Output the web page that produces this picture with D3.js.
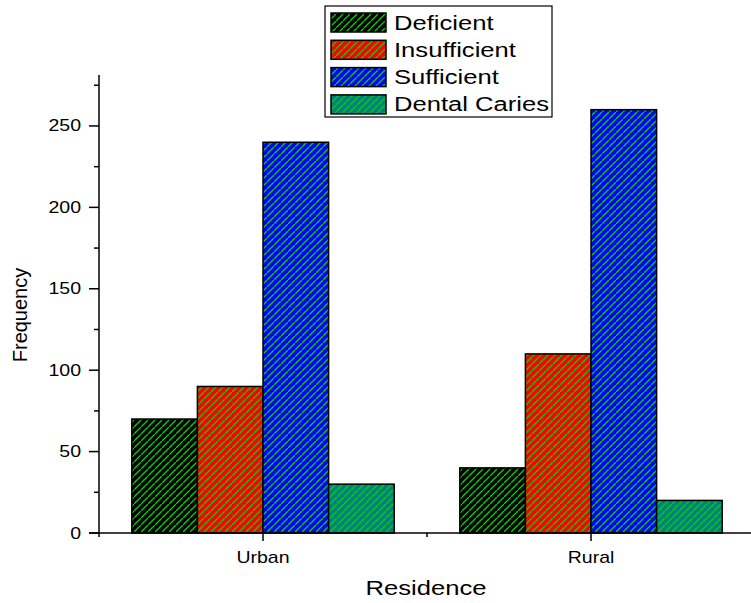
<!DOCTYPE html>
<html>
<head>
<meta charset="utf-8">
<script src="https://cdn.jsdelivr.net/npm/d3@7"></script>
<style>
  html, body { margin: 0; padding: 0; background: #fff; }
  svg { display: block; }
  text { font-family: "Liberation Sans", Arial, sans-serif; fill: #000; }
</style>
</head>
<body>
<svg id="chart" width="751" height="603"></svg>
<script>
// ---- data ----
const categories = ["Urban", "Rural"];
const seriesNames = ["Deficient", "Insufficient", "Sufficient", "Dental Caries"];
const deficient = [70, 40];
const insufficient = [90, 110];
const sufficient = [240, 260];
const dentalCaries = [30, 20];
const seriesValues = [deficient, insufficient, sufficient, dentalCaries];
const yTickValues = [0, 50, 100, 150, 200, 250];
const yMinorTicks = [25, 75, 125, 175, 225, 275];
const xTitle = "Residence";
const yTitle = "Frequency";
const fillColors = ["#000000", "#ff0000", "#0000ff", "#008080"];
const hatchColor = "#00d400";

// ---- layout ----
const svg = d3.select("#chart");
const pLeft = 99, pRight = 755, pTop = 75, pBottom = 533;
const SX = 1.22; // horizontal text stretch seen in the reference

const x0 = d3.scaleBand().domain(categories).range([pLeft, pRight]).paddingInner(0).paddingOuter(0);
const x1 = d3.scaleBand().domain(seriesNames).range([0, x0.bandwidth()]).paddingInner(0).paddingOuter(0.5);
const y = d3.scaleLinear().domain([0, 281.3]).range([pBottom, pTop]);

// patterns
const defs = svg.append("defs");
fillColors.forEach((c, i) => {
  const p = defs.append("pattern")
    .attr("id", "hatch" + i)
    .attr("patternUnits", "userSpaceOnUse")
    .attr("width", 7).attr("height", 7);
  p.append("rect").attr("width", 7).attr("height", 7).attr("fill", c);
  p.append("path")
    .attr("d", "M-1,8 L8,-1 M-2,1 L1,-2 M6,9 L9,6")
    .attr("stroke", hatchColor).attr("stroke-width", 1.4);
});

function stretchedText(g, x, yPos, str, size, anchor) {
  return g.append("text")
    .attr("transform", `translate(${x},${yPos}) scale(${SX},1)`)
    .attr("text-anchor", anchor)
    .style("font-size", size + "px")
    .text(str);
}

// bars
const groups = svg.append("g").selectAll("g")
  .data(categories)
  .join("g")
  .attr("transform", d => `translate(${x0(d)},0)`);

groups.selectAll("rect")
  .data((d, ci) => seriesNames.map((s, si) => ({ s, si, v: seriesValues[si][ci] })))
  .join("rect")
  .attr("x", d => x1(d.s))
  .attr("width", x1.bandwidth())
  .attr("y", d => y(d.v))
  .attr("height", d => y(0) - y(d.v))
  .attr("fill", d => `url(#hatch${d.si})`)
  .attr("stroke", "#000")
  .attr("stroke-width", 1.5);

// y axis
const yAxisG = svg.append("g");
yAxisG.append("line").attr("x1", pLeft).attr("x2", pLeft).attr("y1", pTop).attr("y2", pBottom + 4)
  .attr("stroke", "#000").attr("stroke-width", 1.5);
yTickValues.forEach(v => {
  yAxisG.append("line").attr("x1", pLeft - 10).attr("x2", pLeft).attr("y1", y(v)).attr("y2", y(v))
    .attr("stroke", "#000").attr("stroke-width", 1.5);
  stretchedText(yAxisG, pLeft - 18, y(v) + 5.5, d3.format("d")(v), 16, "end");
});
yMinorTicks.forEach(v => {
  yAxisG.append("line").attr("x1", pLeft - 5).attr("x2", pLeft).attr("y1", y(v)).attr("y2", y(v))
    .attr("stroke", "#000").attr("stroke-width", 1.5);
});

// x axis
const xAxisG = svg.append("g");
xAxisG.append("line").attr("x1", pLeft - 10).attr("x2", 751).attr("y1", pBottom).attr("y2", pBottom)
  .attr("stroke", "#000").attr("stroke-width", 1.5);
categories.forEach(c => {
  const cx = x0(c) + x0.bandwidth() / 2;
  xAxisG.append("line").attr("x1", cx).attr("x2", cx).attr("y1", pBottom).attr("y2", pBottom + 8)
    .attr("stroke", "#000").attr("stroke-width", 1.5);
  stretchedText(xAxisG, cx, 563, c, 16, "middle");
});
x0.domain().slice(1).forEach(c => {
  const bx = x0(c);
  xAxisG.append("line").attr("x1", bx).attr("x2", bx).attr("y1", pBottom).attr("y2", pBottom + 4)
    .attr("stroke", "#000").attr("stroke-width", 1.5);
});

// axis titles
stretchedText(svg, (pLeft + pRight) / 2 - 1, 595, xTitle, 21, "middle");
svg.append("text")
  .attr("transform", `translate(27,${(pTop + pBottom) / 2 + 11}) rotate(-90)`)
  .attr("text-anchor", "middle")
  .style("font-size", "20px")
  .text(yTitle);

// legend
const lg = svg.append("g");
lg.append("rect").attr("x", 325).attr("y", 6).attr("width", 227).attr("height", 111)
  .attr("fill", "#fff").attr("stroke", "#000").attr("stroke-width", 1.2);
seriesNames.forEach((s, i) => {
  const ry = 13 + i * 27.3;
  lg.append("rect").attr("x", 331).attr("y", ry).attr("width", 55).attr("height", 19)
    .attr("fill", `url(#hatch${i})`).attr("stroke", "#000").attr("stroke-width", 1.5);
  stretchedText(lg, 394, ry + 16.5, s, 21, "start");
});
</script>
</body>
</html>
